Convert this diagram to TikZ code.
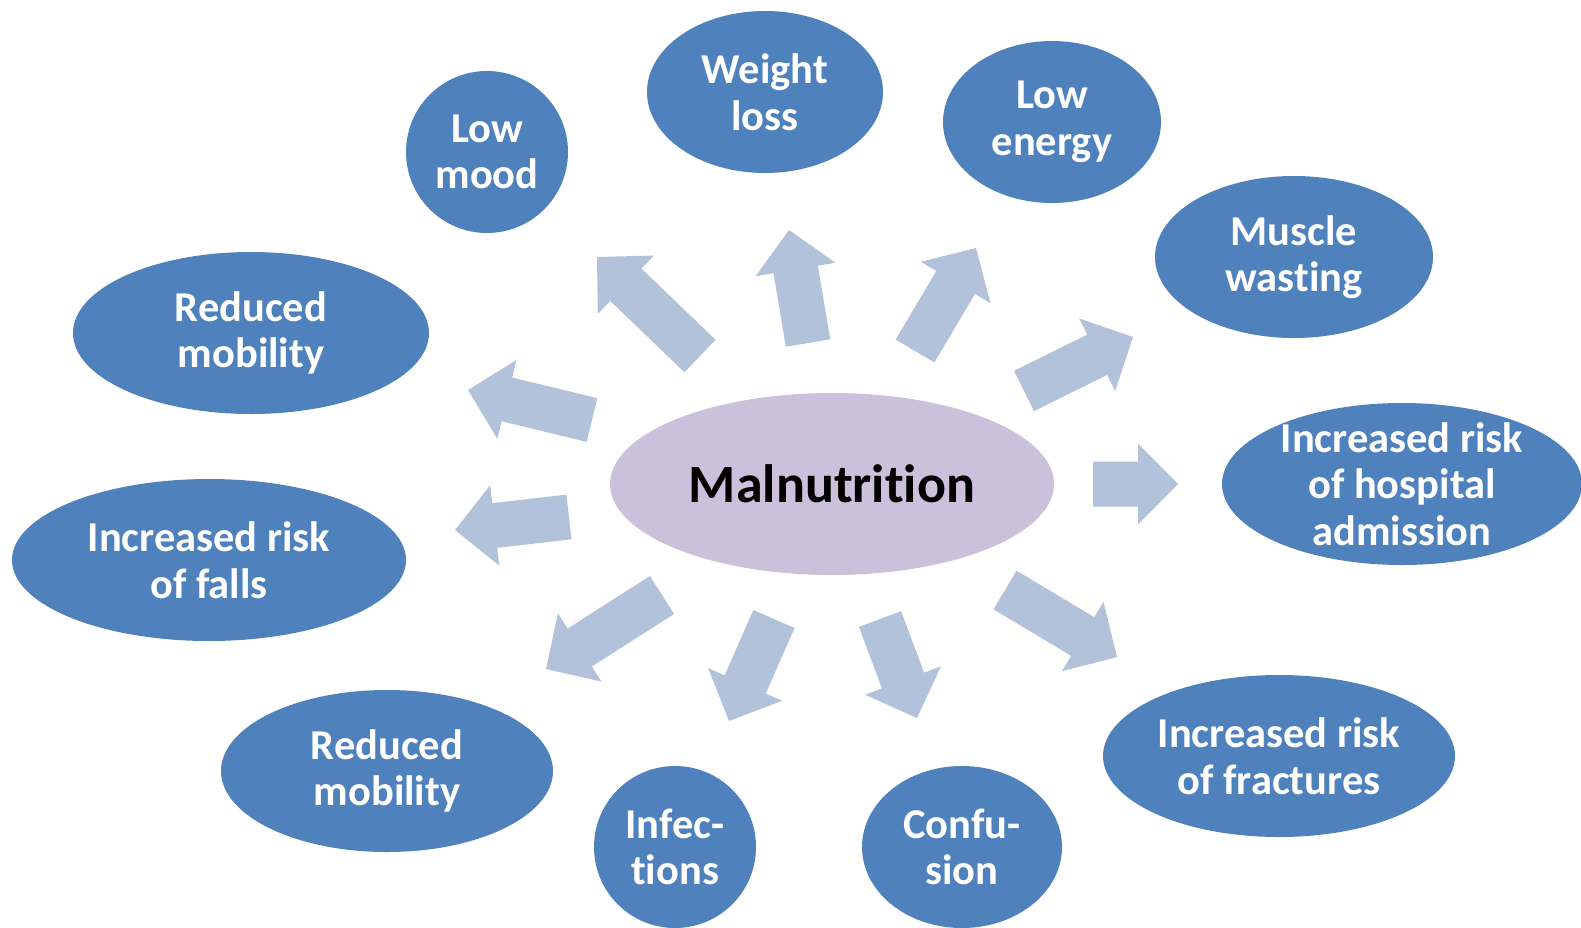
\documentclass[tikz,border=0pt]{standalone}
\usepackage{fontspec}
\setmainfont{Carlito}[Ligatures={NoCommon}]
\usetikzlibrary{shapes.geometric,calc}
\definecolor{blobblue}{HTML}{4F81BD}
\definecolor{centerlilac}{HTML}{CCC1DA}
\definecolor{arrowblue}{HTML}{B3C2DB}
\newcommand\blockarrow[2]{%
  \coordinate (hb) at ($(#2)!40pt!(#1)$);
  \fill[arrowblue] ($(#1)!22.5pt!90:(#2)$) -- ($(hb)!22.5pt!-90:(#1)$) -- ($(hb)!40.5pt!-90:(#1)$) -- (#2)
    -- ($(hb)!40.5pt!90:(#1)$) -- ($(hb)!22.5pt!90:(#1)$) -- ($(#1)!22.5pt!-90:(#2)$) -- cycle;
}
\begin{document}
\begin{tikzpicture}[x=1pt,y=-1pt,
  blob/.style={ellipse, fill=blobblue, inner sep=0pt},
  lbl/.style={text=white, font=\fontsize{42.5}{46.5}\selectfont\bfseries, align=center, inner sep=0pt},
  ]
\useasboundingbox (0,0) rectangle (1581,927);
% outer ellipses
\node[blob, minimum width=162pt, minimum height=162pt] (lowmood) at (487,152) {};
\node[blob, minimum width=236pt, minimum height=162pt] (weight) at (765,92) {};
\node[blob, minimum width=218pt, minimum height=162pt] (energy) at (1052,122) {};
\node[blob, minimum width=278pt, minimum height=162pt] (muscle) at (1294,257) {};
\node[blob, minimum width=360pt, minimum height=162pt] (hosp) at (1402,484) {};
\node[blob, minimum width=356pt, minimum height=162pt] (redup) at (251,333) {};
\node[blob, minimum width=394pt, minimum height=162pt] (falls) at (209,560) {};
\node[blob, minimum width=332pt, minimum height=162pt] (redlow) at (387,771) {};
\node[blob, minimum width=162pt, minimum height=162pt] (infect) at (675,847) {};
\node[blob, minimum width=200pt, minimum height=162pt] (conf) at (962,847) {};
\node[blob, minimum width=352pt, minimum height=162pt] (fract) at (1279,756) {};
\node[ellipse, fill=centerlilac, inner sep=0pt, minimum width=444pt, minimum height=182pt] (mal) at (832,484) {};
% labels
\node[lbl] (tlowmood) at (lowmood) {Low\\mood};
\node[lbl] (tweight) at (weight) {Weight\\loss};
\node[lbl] (tenergy) at (energy) {Low\\energy};
\node[lbl] (tmuscle) at (muscle) {Muscle\\wasting};
\node[lbl] (thosp) at (hosp) {Increased risk\\of hospital\\admission};
\node[lbl] (tredup) at (redup) {Reduced\\mobility};
\node[lbl] (tfalls) at (falls) {Increased risk\\of falls};
\node[lbl] (tredlow) at (redlow) {Reduced\\mobility};
\node[lbl] (tinfect) at (infect) {Infec-\\tions};
\node[lbl] (tconf) at (conf) {Confu-\\sion};
\node[lbl] (tfract) at (fract) {Increased risk\\of fractures};
\node[text=black, font=\fontsize{54}{60}\selectfont\bfseries, inner sep=0pt] (tmal) at (mal) {Malnutrition};
% arrow end points
\coordinate (a1t) at (700,356);  \coordinate (a1h) at (597,257);
\coordinate (a2t) at (592,420);  \coordinate (a2h) at (468,390);
\coordinate (a3t) at (808,343);  \coordinate (a3h) at (789,230);
\coordinate (a4t) at (915,351);  \coordinate (a4h) at (976,248);
\coordinate (a5t) at (1024,391); \coordinate (a5h) at (1133,337);
\coordinate (a6t) at (1093,484); \coordinate (a6h) at (1178,484);
\coordinate (a7t) at (569,517);  \coordinate (a7h) at (455,530);
\coordinate (a8t) at (662,595);  \coordinate (a8h) at (546,669);
\coordinate (a9t) at (774,619);  \coordinate (a9h) at (729,721);
\coordinate (a10t) at (880,619); \coordinate (a10h) at (917,718);
\coordinate (a11t) at (1005,590); \coordinate (a11h) at (1117,657);
\blockarrow{a1t}{a1h}
\blockarrow{a2t}{a2h}
\blockarrow{a3t}{a3h}
\blockarrow{a4t}{a4h}
\blockarrow{a5t}{a5h}
\blockarrow{a6t}{a6h}
\blockarrow{a7t}{a7h}
\blockarrow{a8t}{a8h}
\blockarrow{a9t}{a9h}
\blockarrow{a10t}{a10h}
\blockarrow{a11t}{a11h}
\end{tikzpicture}
\end{document}
